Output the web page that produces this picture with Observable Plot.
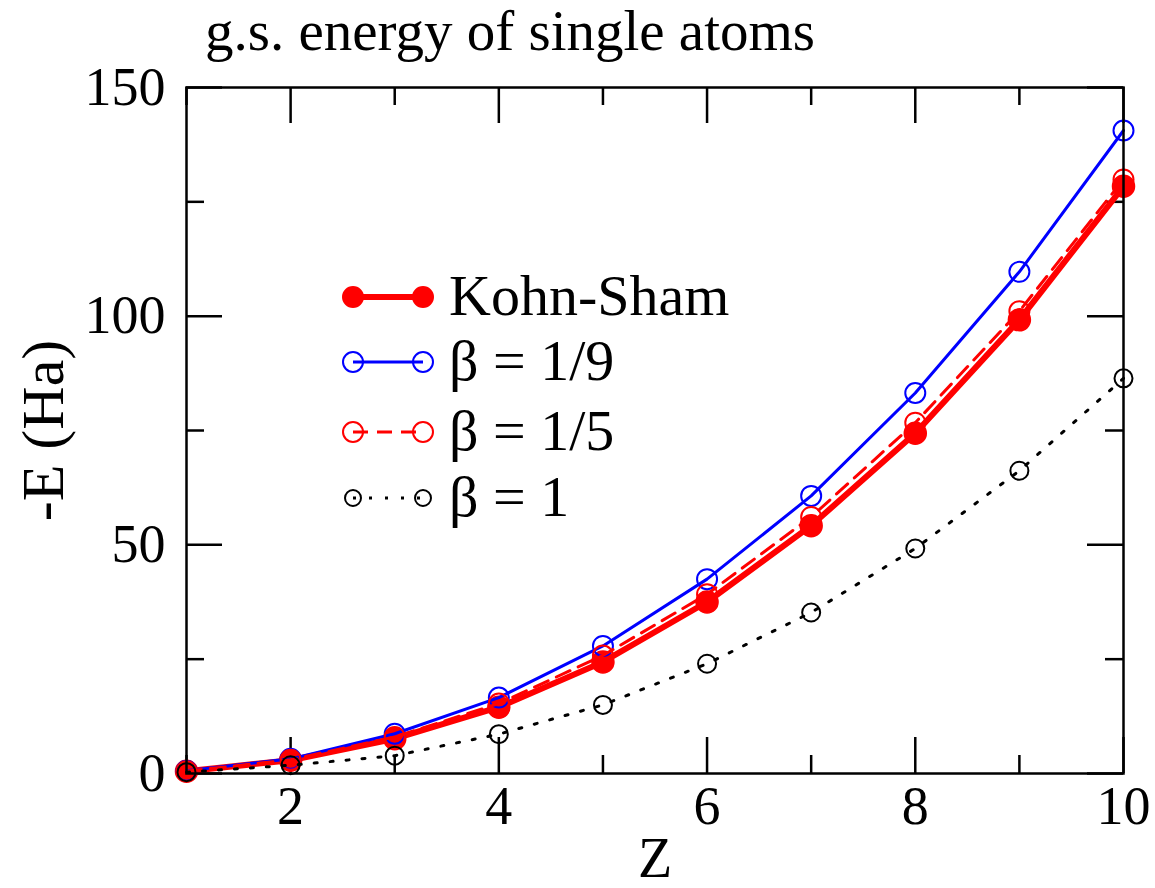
<!DOCTYPE html>
<html>
<head>
<meta charset="utf-8">
<script src="https://cdn.jsdelivr.net/npm/d3@7"></script>
<script src="https://cdn.jsdelivr.net/npm/@observablehq/plot@0.6"></script>
<style>
  body { margin: 0; background: #fff; }
  #wrap { position: relative; width: 1155px; height: 888px; font-family: "Liberation Serif", "Times New Roman", serif; }
  #title { position: absolute; left: 205px; top: 2px; font-size: 57px; line-height: 1; color: #000; white-space: nowrap; z-index: 2; }
  #wrap svg { position: absolute; left: 0; top: 0; overflow: visible; }
</style>
</head>
<body>
<div id="wrap"><div id="title">g.s. energy of single atoms</div></div>
<script>
// Atomic number
const Z = [1, 2, 3, 4, 5, 6, 7, 8, 9, 10];
// Ground-state energies, -E in Hartree
const kohnSham = [0.5, 2.9, 7.6, 14.5, 24.4, 37.5, 54.2, 74.4, 99.2, 128.4];
const beta1_9  = [0.6, 3.2, 8.7, 16.6, 27.9, 42.5, 60.7, 83.2, 109.7, 140.6];
const beta1_5  = [0.5, 3.0, 8.0, 15.3, 25.8, 39.2, 56.1, 76.7, 101.1, 129.9];
const beta1    = [0.3, 1.8, 3.9, 8.6, 15.0, 24.0, 35.2, 49.2, 66.2, 86.4];

const seriesNames = ["Kohn-Sham", "β = 1/9", "β = 1/5", "β = 1"];

const xMajor = [2, 4, 6, 8, 10];
const xMinor = [1, 3, 5, 7, 9];
const yMajor = [0, 50, 100, 150];
const yMinor = [25, 75, 125];

const rows = (vals) => Z.map((z, i) => ({z, e: vals[i]}));
const ks = rows(kohnSham), b9 = rows(beta1_9), b5 = rows(beta1_5), b1 = rows(beta1);

const W = 1155, H = 888;
const mL = 186, mR = 32, mT = 87, mB = 115;
const fw = W - mL - mR, fh = H - mT - mB;
const majorLen = 36, minorLen = 18;
const tickStyle = {stroke: "#000", strokeWidth: 2.5};

const ticksX = (vals, len) => [
  Plot.tickX(vals, {x: d => d, insetTop: fh - len, ...tickStyle}),
  Plot.tickX(vals, {x: d => d, insetBottom: fh - len, ...tickStyle})
];
const ticksY = (vals, len) => [
  Plot.tickY(vals, {y: d => d, insetRight: fw - len, ...tickStyle}),
  Plot.tickY(vals, {y: d => d, insetLeft: fw - len, ...tickStyle})
];

const chart = Plot.plot({
  width: W, height: H,
  marginLeft: mL, marginRight: mR, marginTop: mT, marginBottom: mB,
  style: {fontFamily: "Liberation Serif, Times New Roman, serif", background: "transparent", color: "#000"},
  x: {domain: [1, 10], label: null},
  y: {domain: [0, 150], label: null},
  marks: [
    ...ticksX(xMajor, majorLen), ...ticksX(xMinor, minorLen),
    ...ticksY(yMajor, majorLen), ...ticksY(yMinor, minorLen),
    Plot.axisX({ticks: xMajor, tickSize: 0, tickPadding: 12, fontSize: 54, tickFormat: d => d}),
    Plot.axisY({ticks: yMajor, tickSize: 0, tickPadding: 21, fontSize: 54, tickFormat: d => d}),
    Plot.text(["Z"], {frameAnchor: "bottom", textAnchor: "middle", dy: 103, fontSize: 56}),
    Plot.text(["-E (Ha)"], {frameAnchor: "left", textAnchor: "middle", dx: -143, rotate: -90, fontSize: 60}),

    // Kohn-Sham
    Plot.line(ks, {x: "z", y: "e", stroke: "#ff0000", strokeWidth: 6}),
    Plot.dot(ks, {x: "z", y: "e", r: 11, fill: "#ff0000", stroke: "#ff0000"}),
    // beta = 1/9
    Plot.line(b9, {x: "z", y: "e", stroke: "#0000ff", strokeWidth: 3}),
    Plot.dot(b9, {x: "z", y: "e", r: 10, fill: "none", stroke: "#0000ff", strokeWidth: 2}),
    // beta = 1/5
    Plot.line(b5, {x: "z", y: "e", stroke: "#ff0000", strokeWidth: 3, strokeDasharray: "15,9"}),
    Plot.dot(b5, {x: "z", y: "e", r: 10, fill: "none", stroke: "#ff0000", strokeWidth: 2}),
    // beta = 1
    Plot.line(b1, {x: "z", y: "e", stroke: "#000", strokeWidth: 3, strokeDasharray: "3,13"}),
    Plot.dot(b1, {x: "z", y: "e", r: 9, fill: "none", stroke: "#000", strokeWidth: 2}),

    Plot.frame({stroke: "#000", strokeWidth: 2.5})
  ]
});

// Legend drawn inside the plotting frame
const svg = d3.select(chart);
const legendRows = [
  {name: seriesNames[0], cy: 297, color: "#ff0000", width: 6, dash: null, r: 10, fill: "#ff0000", sw: 2},
  {name: seriesNames[1], cy: 362, color: "#0000ff", width: 3, dash: null, r: 10, fill: "none", sw: 2},
  {name: seriesNames[2], cy: 432, color: "#ff0000", width: 3, dash: "15,9", r: 10, fill: "none", sw: 2},
  {name: seriesNames[3], cy: 498, color: "#000", width: 3, dash: "3,13", r: 8, fill: "none", sw: 2}
];
const lg = svg.append("g")
  .attr("font-family", "Liberation Serif, Times New Roman, serif")
  .attr("text-anchor", "start");
const x0 = 353, x1 = 423, tx = 449;
for (const r of legendRows) {
  lg.append("line").attr("x1", x0).attr("x2", x1).attr("y1", r.cy).attr("y2", r.cy)
    .attr("stroke", r.color).attr("stroke-width", r.width)
    .attr("stroke-dasharray", r.dash);
  for (const cx of [x0, x1]) {
    lg.append("circle").attr("cx", cx).attr("cy", r.cy).attr("r", r.r)
      .attr("fill", r.fill).attr("stroke", r.color).attr("stroke-width", r.sw);
  }
  lg.append("text").attr("x", tx).attr("y", r.cy + 18).attr("font-size", 58)
    .attr("text-anchor", "start").attr("fill", "#000").text(r.name);
}

document.getElementById("wrap").appendChild(chart);
</script>
</body>
</html>
